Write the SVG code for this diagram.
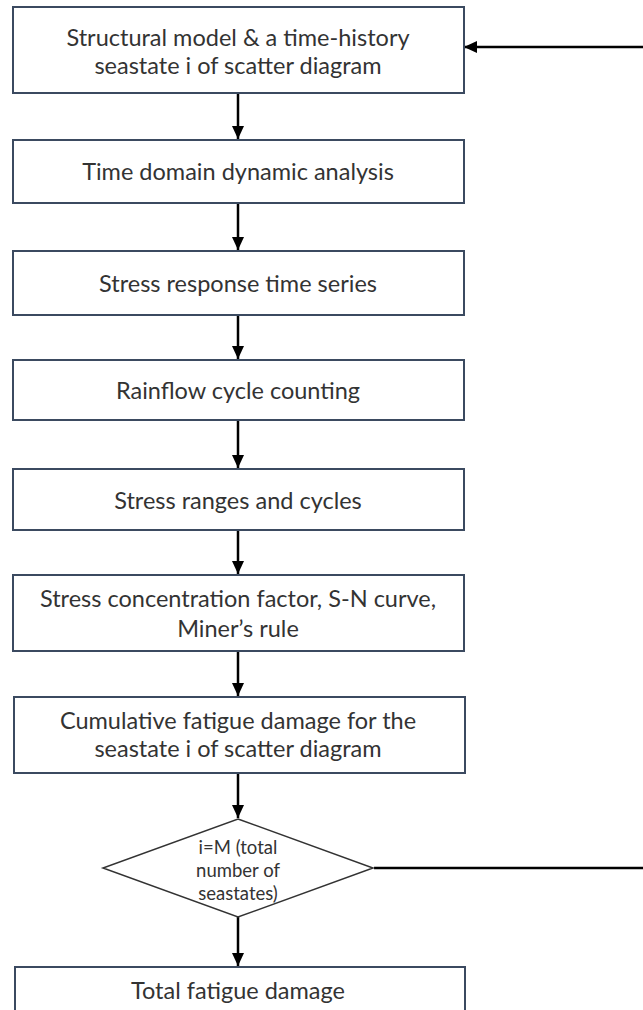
<svg xmlns="http://www.w3.org/2000/svg" width="643" height="1010" viewBox="0 0 643 1010">
<style>
.box{fill:#fff;stroke:#3b4a60;stroke-width:2}
.t{font-family:Lato,"Open Sans","Liberation Sans",sans-serif;font-size:23.5px;fill:#333;text-anchor:middle;dominant-baseline:central}
.s{font-size:18.5px}
.c{stroke:#000;stroke-width:2.5;fill:none}
</style>
<defs>
<marker id="ah" markerUnits="userSpaceOnUse" markerWidth="14" markerHeight="12" refX="13" refY="6" orient="auto">
<path d="M0,0 L13,6 L0,12 Z" fill="#000"/>
</marker>
</defs>
<rect width="643" height="1010" fill="#fff"/>
<g id="connectors">
<line class="c" x1="238" y1="93" x2="238" y2="139" marker-end="url(#ah)"/>
<line class="c" x1="238" y1="203" x2="238" y2="250" marker-end="url(#ah)"/>
<line class="c" x1="238" y1="315" x2="238" y2="359" marker-end="url(#ah)"/>
<line class="c" x1="238" y1="420" x2="238" y2="468" marker-end="url(#ah)"/>
<line class="c" x1="238" y1="530" x2="238" y2="574" marker-end="url(#ah)"/>
<line class="c" x1="238" y1="651" x2="238" y2="696" marker-end="url(#ah)"/>
<line class="c" x1="238" y1="773" x2="238" y2="818" marker-end="url(#ah)"/>
<line class="c" x1="238" y1="917" x2="238" y2="966" marker-end="url(#ah)"/>
<polyline class="c" points="374,868 643,868"/>
<line class="c" x1="643" y1="47" x2="464" y2="47" marker-end="url(#ah)"/>
</g>
<g id="n1"><rect class="box" x="13" y="7" width="451" height="86"/>
<text class="t" x="238" y="37">Structural model &amp; a time-history</text>
<text class="t" x="238" y="65">seastate i of scatter diagram</text></g>
<g id="n2"><rect class="box" x="13" y="140" width="451" height="63"/>
<text class="t" x="238" y="171">Time domain dynamic  analysis</text></g>
<g id="n3"><rect class="box" x="13" y="251" width="451" height="64"/>
<text class="t" x="238" y="283">Stress response  time series</text></g>
<g id="n4"><rect class="box" x="13" y="360" width="451" height="60"/>
<text class="t" x="238" y="390">Rainflow cycle counting</text></g>
<g id="n5"><rect class="box" x="13" y="469" width="451" height="61"/>
<text class="t" x="238" y="500">Stress ranges and cycles</text></g>
<g id="n6"><rect class="box" x="13" y="575" width="451" height="76"/>
<text class="t" x="238" y="598">Stress concentration factor, S-N curve,</text>
<text class="t" x="238" y="628">Miner’s rule</text></g>
<g id="n7"><rect class="box" x="14" y="697" width="451" height="76"/>
<text class="t" x="238" y="720">Cumulative  fatigue damage for the</text>
<text class="t" x="238" y="748">seastate i of scatter diagram</text></g>
<g id="n8"><polygon points="238,819 373,868 238,917 103,868" fill="#fff" stroke="#333" stroke-width="1.5"/>
<text class="t s" x="238" y="847">i=M (total</text>
<text class="t s" x="238" y="870">number of</text>
<text class="t s" x="238" y="893">seastates)</text></g>
<g id="n9"><rect class="box" x="15" y="967" width="450" height="60"/>
<text class="t" x="238" y="990">Total fatigue damage</text></g>
</svg>
